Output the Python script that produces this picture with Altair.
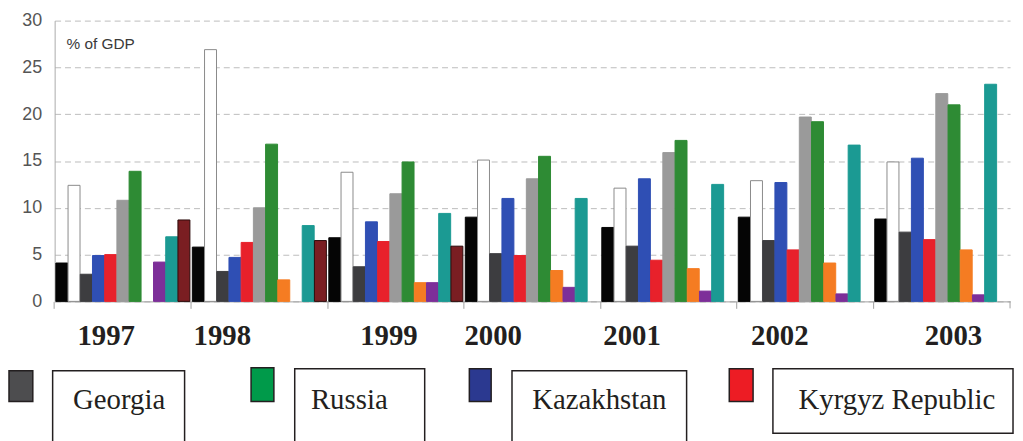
import altair as alt
import pandas as pd

# ---------------- data ----------------
YEARS = ["1997", "1998", "1999", "2000", "2001", "2002", "2003"]
SERIES = ["Series 1", "Series 2", "Georgia", "Kazakhstan", "Kyrgyz Republic",
          "Series 6", "Russia", "Series 8", "Series 9", "Series 10", "Series 11"]

S1 = [4.1, 5.8, 6.8, 9.0, 7.9, 9.0, 8.8]            # black
S2 = [12.4, 26.9, 13.8, 15.1, 12.1, 12.9, 14.9]     # white (outlined)
GEORGIA = [2.9, 3.2, 3.7, 5.1, 5.9, 6.5, 7.4]
KAZAKHSTAN = [4.9, 4.7, 8.5, 11.0, 13.1, 12.7, 15.3]
KYRGYZ = [5.0, 6.3, 6.4, 4.9, 4.4, 5.5, 6.6]
S6 = [10.8, 10.0, 11.5, 13.1, 15.9, 19.7, 22.2]     # grey
RUSSIA = [13.9, 16.8, 14.9, 15.5, 17.2, 19.2, 21.0]
S8 = [None, 2.3, 2.0, 3.3, 3.5, 4.1, 5.5]           # orange
S9 = [4.2, None, 2.0, 1.5, 1.1, 0.8, 0.7]           # purple
S10 = [6.9, 8.1, 9.4, 11.0, 12.5, 16.7, 23.2]       # teal
S11 = [8.7, 6.5, 5.9, None, None, None, None]       # dark red

SERIES_VALUES = [S1, S2, GEORGIA, KAZAKHSTAN, KYRGYZ, S6, RUSSIA, S8, S9, S10, S11]

LEGEND_NAMES = ["Georgia", "Russia", "Kazakhstan", "Kyrgyz Republic"]
Y_TICKS = [0, 5, 10, 15, 20, 25, 30]
UNIT_LABEL = "% of GDP"

# ---------------- styles / layout ----------------
COLORS = ["#050505", "#ffffff", "#3d3d40", "#2f4fb4", "#e8212b", "#9a9a9a",
          "#2e8b34", "#f57c22", "#7d2f99", "#1b9a93", "#7a1e22"]
STROKES = ["#050505", "#8a8a8a", "#3d3d40", "#2f4fb4", "#e8212b", "#9a9a9a",
           "#2e8b34", "#f57c22", "#7d2f99", "#1b9a93", "#2a0a0a"]
LEGEND_COLORS = ["#4d4d4f", "#009a4a", "#2b3990", "#ed1c24"]

W, H = 963, 283
YEAR_LABEL_X = [52, 169, 337, 442, 582, 731, 906]
YEAR_LABEL_Y = 318
SWATCH_X = [(-46, -22), (198, 221), (418, 440), (680, 704)]
SWATCH_Y = [(353, 384), (350, 384), (351, 384), (351, 384)]
BOX_X = [(-2, 131), (242, 373), (461, 637), (724, 966)]
BOX_Y = [(353, 440), (351, 440), (353, 440), (351, 416)]
LEGEND_TEXT_X = [65, 297, 549, 849]
LEGEND_TEXT_Y = 382

rows = []
for s, vals in zip(SERIES, SERIES_VALUES):
    for y, v in zip(YEARS, vals):
        if v is not None:
            rows.append({"year": y, "series": s, "value": v})
df = pd.DataFrame(rows)

bars = alt.Chart(df).mark_bar(strokeWidth=1).encode(
    x=alt.X("year:N", sort=YEARS,
            scale=alt.Scale(domain=YEARS, paddingInner=0, paddingOuter=0),
            axis=alt.Axis(title=None, labels=False, bandPosition=0, ticks=True,
                          tickSize=7, tickColor="#a0a0a0", domainColor="#a0a0a0",
                          grid=False)),
    xOffset=alt.XOffset("series:N", sort=SERIES,
                        scale=alt.Scale(domain=SERIES, paddingInner=0.02, paddingOuter=0.1)),
    y=alt.Y("value:Q", scale=alt.Scale(domain=[0, 30], nice=False),
            axis=alt.Axis(title=None, values=Y_TICKS, grid=True, gridDash=[6, 4],
                          gridColor="#bcbcbc", ticks=False, labelPadding=13,
                          labelFontSize=18, labelColor="#555555",
                          labelFont="Liberation Sans", domainColor="#aaaaaa")),
    color=alt.Color("series:N", scale=alt.Scale(domain=SERIES, range=COLORS), legend=None),
    stroke=alt.Stroke("series:N", scale=alt.Scale(domain=SERIES, range=STROKES), legend=None),
)

end_tick = alt.Chart(pd.DataFrame({"a": [0]})).mark_rule(color="#a0a0a0").encode(
    x=alt.value(W), y=alt.value(H), y2=alt.value(H + 7))

unit_text = alt.Chart(pd.DataFrame({"t": [UNIT_LABEL]})).mark_text(
    align="left", baseline="middle", font="Liberation Sans", fontSize=15.5, color="#3a3a3a"
).encode(x=alt.value(12), y=alt.value(24), text="t:N")

years_df = pd.DataFrame({"year": YEARS, "px": YEAR_LABEL_X})
year_text = alt.Chart(years_df).mark_text(
    align="center", baseline="middle", font="Liberation Serif", fontSize=29,
    fontWeight="bold", color="#231f20"
).encode(x=alt.X("px:Q", scale=None, axis=None), y=alt.value(YEAR_LABEL_Y), text="year:N")

leg_df = pd.DataFrame({
    "name": LEGEND_NAMES,
    "color": LEGEND_COLORS,
    "sx1": [a for a, b in SWATCH_X], "sx2": [b for a, b in SWATCH_X],
    "sy1": [a for a, b in SWATCH_Y], "sy2": [b for a, b in SWATCH_Y],
    "bx1": [a for a, b in BOX_X], "bx2": [b for a, b in BOX_X],
    "by1": [a for a, b in BOX_Y], "by2": [b for a, b in BOX_Y],
    "tx": LEGEND_TEXT_X,
})

boxes = alt.Chart(leg_df).mark_rect(fill="white", stroke="#231f20", strokeWidth=1.5).encode(
    x=alt.X("bx1:Q", scale=None, axis=None), x2="bx2:Q",
    y=alt.Y("by1:Q", scale=None, axis=None), y2="by2:Q")

swatches = alt.Chart(leg_df).mark_rect(stroke="#231f20", strokeWidth=1.5).encode(
    x=alt.X("sx1:Q", scale=None, axis=None), x2="sx2:Q",
    y=alt.Y("sy1:Q", scale=None, axis=None), y2="sy2:Q",
    fill=alt.Fill("color:N", scale=None))

leg_text = alt.Chart(leg_df).mark_text(
    align="center", baseline="middle", font="Liberation Serif", fontSize=29, color="#231f20"
).encode(x=alt.X("tx:Q", scale=None, axis=None), y=alt.value(LEGEND_TEXT_Y), text="name:N")

chart = alt.layer(bars, end_tick, unit_text, year_text, boxes, swatches, leg_text).resolve_scale(
    x="independent", y="independent"
).properties(
    width=W, height=H,
    padding={"left": 47, "top": 11, "right": 5, "bottom": 139},
    autosize=alt.AutoSizeParams(type="none"),
).configure_view(stroke=None)

chart.save("out.html", embed_options={"renderer": "svg", "actions": False})
